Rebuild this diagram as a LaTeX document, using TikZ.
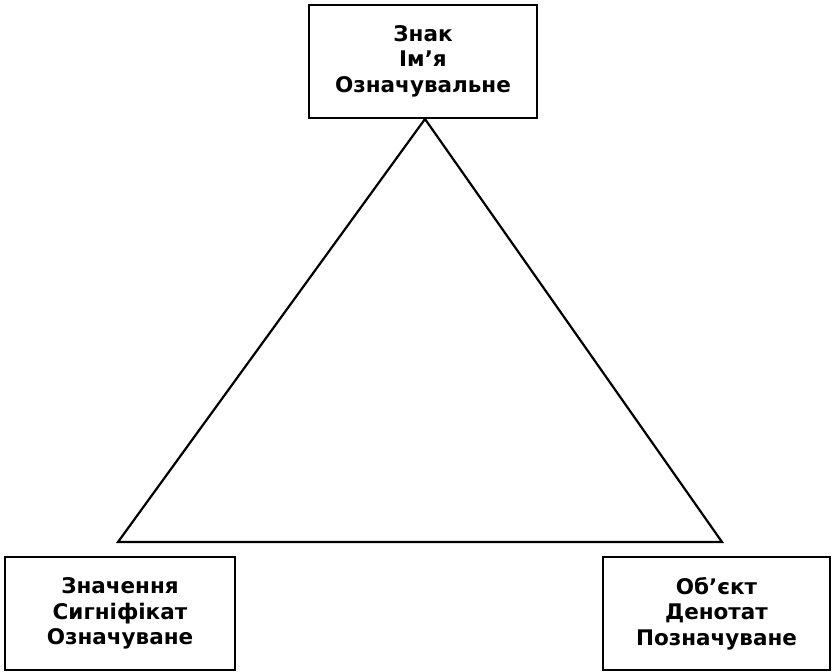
\documentclass[tikz,border=0pt]{standalone}
\usepackage{fontspec}
\setmainfont{DejaVu Sans}
\begin{document}
\begin{tikzpicture}[x=1pt,y=-1pt,
  lbl/.style={draw=black, line width=2pt, fill=white, align=center, font=\bfseries\fontsize{21.5}{25.5}\selectfont, inner sep=0pt},
  edge/.style={line width=2.2pt, line join=miter}]
\useasboundingbox (0,0) rectangle (833,672);
\node[lbl, minimum width=228, minimum height=113] (sign) at (423,61) {Знак\\Ім’я\\Означувальне};
\node[lbl, minimum width=230, minimum height=113] (meaning) at (120,613.5) {Значення\\Сигніфікат\\Означуване};
\node[lbl, minimum width=227, minimum height=113] (object) at (716.5,613.5) {Об’єкт\\Денотат\\Позначуване};
\coordinate (apex) at (425,119);
\coordinate (bl) at (118,542);
\coordinate (br) at (722,542);
\draw[edge] (apex) -- (bl) -- (br) -- cycle;
\end{tikzpicture}
\end{document}
